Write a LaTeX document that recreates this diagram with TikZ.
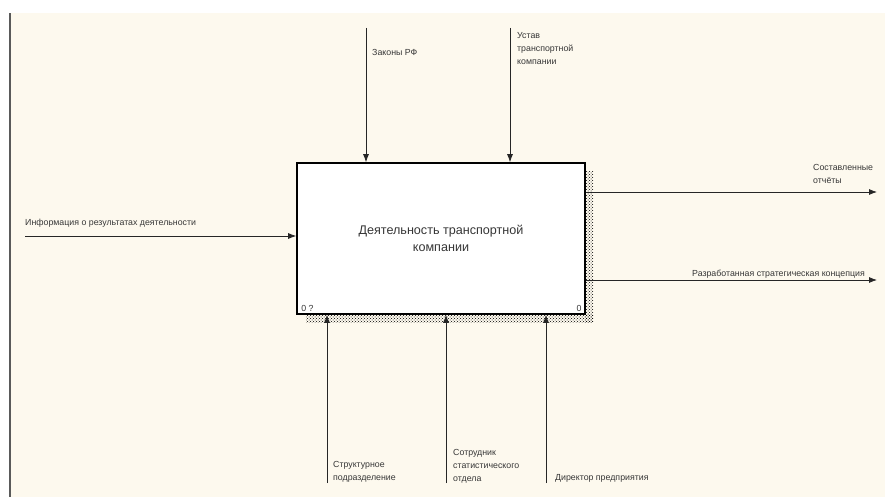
\documentclass[tikz,border=0pt]{standalone}
\usepackage{fontspec}
\setmainfont{Liberation Sans}
\usepackage{tikz}
\usetikzlibrary{arrows.meta,calc,positioning,patterns}
\definecolor{sheet}{RGB}{253,249,238}
\definecolor{edgebar}{RGB}{90,90,90}
\definecolor{labeltext}{RGB}{55,55,55}
\newcommand{\arrlabel}[3]{%
  \node[arrlbl,anchor=west] (#1) at (#2) {#3};%
}
\begin{document}
\begin{tikzpicture}[x=1pt,y=-1pt,
  flow/.style={draw=black!85,line width=0.8pt,-{Latex[length=8pt,width=6pt]}},
  arrlbl/.style={font=\fontsize{8.8}{13}\selectfont,text=labeltext,inner sep=0pt,align=left},
  actbox/.style={draw=black,line width=1.6pt,fill=white,minimum width=288pt,minimum height=151pt,inner sep=0pt},
  shade/.style={pattern=crosshatch dots,pattern color=black}]
  % sheet
  \useasboundingbox (0,0) rectangle (885,497);
  \fill[white] (0,0) rectangle (885,497);
  \fill[sheet] (11,13) rectangle (885,497);
  \fill[edgebar] (9,13) rectangle (11,497);
  % activity box with shadow
  \fill[shade] (585,172) rectangle (593,322);
  \fill[shade] (306,314) rectangle (593,322);
  \node[actbox,align=center,font=\fontsize{12.6}{17}\selectfont,text=labeltext] (act) at (441,238.5)
    {Деятельность транспортной\\компании};
  \node[arrlbl,anchor=south west] (num) at ($(act.south west)+(5,-3)$) {0 ?};
  \node[arrlbl,anchor=south east] (nodeno) at ($(act.south east)+(-4,-3)$) {0};
  % controls
  \coordinate (law) at (366,28);
  \coordinate (charter) at (510,28);
  \draw[flow] (law) -- (law |- act.north);
  \draw[flow] (charter) -- (charter |- act.north);
  \arrlabel{lawlbl}{372,52}{Законы РФ}
  \arrlabel{charterlbl}{517,49}{Устав\\транспортной\\компании}
  % input
  \coordinate (info) at (25,236);
  \draw[flow] (info) -- (info -| act.west);
  \arrlabel{infolbl}{25,223}{Информация о результатах деятельности}
  % outputs
  \coordinate (rep) at (877,192);
  \coordinate (conc) at (877,280);
  \draw[flow] (rep -| act.east) -- (rep);
  \draw[flow] (conc -| act.east) -- (conc);
  \arrlabel{replbl}{813,174}{Составленные\\отчёты}
  \node[arrlbl,anchor=east] (conclbl) at (865,274) {Разработанная стратегическая концепция};
  % mechanisms
  \foreach \mx/\mname in {327/dept,446/staff,546/head}
    {\coordinate (\mname) at (\mx,483);
     \draw[flow] (\mname) -- (\mname |- act.south);}
  \arrlabel{deptlbl}{333,472}{Структурное\\подразделение}
  \arrlabel{stafflbl}{453,466}{Сотрудник\\статистического\\отдела}
  \arrlabel{headlbl}{555,478}{Директор предприятия}
\end{tikzpicture}
\end{document}
